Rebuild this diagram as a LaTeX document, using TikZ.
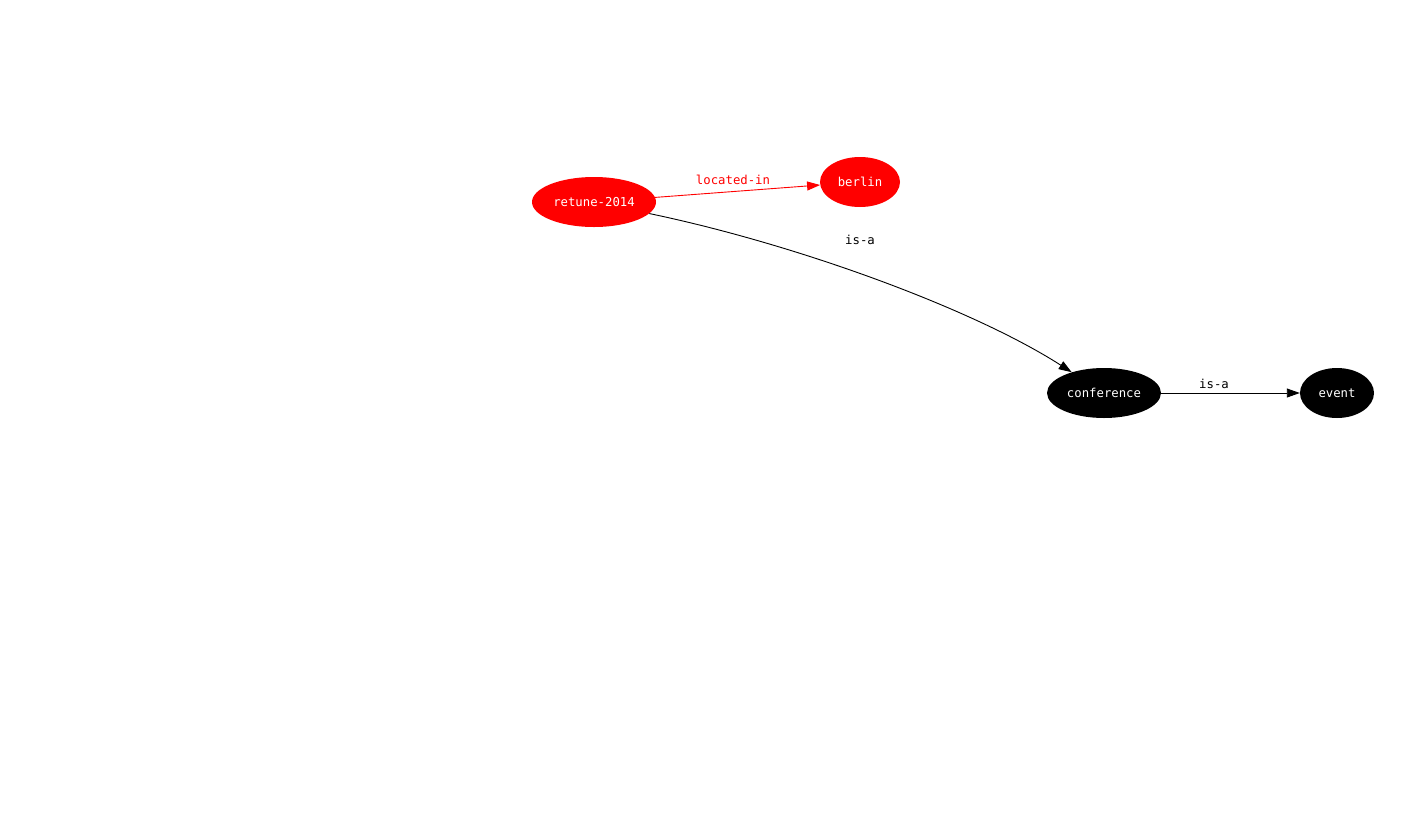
\documentclass[tikz,border=0pt]{standalone}
\usepackage{fontspec}
\setmonofont{DejaVu Sans Mono}
\usetikzlibrary{shapes.geometric,arrows.meta}
\begin{document}
\begin{tikzpicture}[x=1pt,y=-1pt,
  nd/.style={ellipse,inner sep=0pt,text=white,font=\ttfamily\fontsize{12.3}{14}\selectfont},
  rednd/.style={nd,fill=red},
  blacknd/.style={nd,fill=black},
  edge/.style={-{Triangle[length=13pt,width=9pt]},line width=0.9pt},
  lbl/.style={font=\ttfamily\fontsize{12.3}{14}\selectfont}]
\useasboundingbox (0,0) rectangle (1417,836);
\node[rednd,minimum width=124pt,minimum height=50pt] (r) at (594,202) {retune-2014};
\node[rednd,minimum width=80pt,minimum height=50pt] (b) at (860,182) {berlin};
\node[blacknd,minimum width=114pt,minimum height=50pt] (c) at (1104,393) {conference};
\node[blacknd,minimum width=74pt,minimum height=50pt] (e) at (1337,393) {event};
\draw[edge,red] (r) -- (b);
\node[lbl,text=red] (l1) at (733,180) {located-in};
\draw[edge] (r) .. controls (800,245) and (975,310) .. (c);
\node[lbl] (l2) at (860,240) {is-a};
\draw[edge] (c) -- (e);
\node[lbl] (l3) at (1214,384) {is-a};
\end{tikzpicture}
\end{document}
